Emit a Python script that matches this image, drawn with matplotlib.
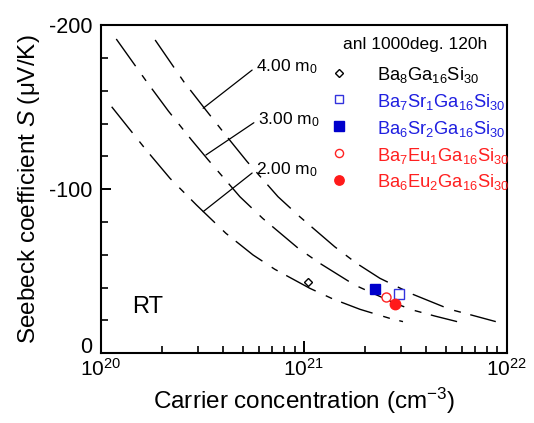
import matplotlib
matplotlib.use("Agg")
import matplotlib.pyplot as plt
from matplotlib.ticker import LogLocator, MultipleLocator, FixedLocator
from matplotlib.transforms import ScaledTranslation

plt.rcParams.update({
    "font.family": ["Liberation Sans", "DejaVu Sans"],
    "mathtext.fontset": "custom",
    "mathtext.rm": "Liberation Sans",
    "mathtext.it": "Liberation Sans:italic",
    "mathtext.bf": "Liberation Sans:bold",
    "axes.unicode_minus": False,
})

# ---- data ----
# theoretical curves
n_4m = [1.85e20, 2.56e20, 3.29e20, 4.24e20, 5.26e20, 7.46e20, 9.55e20,
        1.42e21, 1.82e21, 2.37e21, 3.45e21, 5.24e21, 6.70e21, 8.83e21]
S_4m = [-190.9, -165.5, -148.2, -131.0, -116.7, -95.4, -83.2,
        -64.9, -54.8, -45.7, -35.9, -26.8, -23.3, -19.3]
n_3m = [1.19e20, 1.68e20, 2.15e20, 2.80e20, 3.38e20, 4.84e20, 6.27e20,
        9.38e20, 1.20e21, 1.78e21, 2.81e21, 3.43e21, 4.42e21, 5.69e21]
S_3m = [-191.5, -165.5, -147.6, -129.9, -117.8, -95.4, -82.2,
        -64.0, -54.8, -41.6, -30.5, -26.4, -22.7, -19.3]
n_2m = [1.13e20, 1.67e20, 2.19e20, 2.96e20, 4.13e20, 5.62e20, 7.19e20,
        1.07e21, 1.39e21, 1.89e21, 2.65e21, 3.08e21]
S_2m = [-150.2, -123.9, -106.6, -90.3, -73.1, -59.9, -51.2,
        -39.6, -33.1, -26.8, -21.3, -19.3]

# measured samples
samples = ["Ba$_8$Ga$_{16}$Si$_{30}$",
           "Ba$_7$Sr$_1$Ga$_{16}$Si$_{30}$",
           "Ba$_6$Sr$_2$Ga$_{16}$Si$_{30}$",
           "Ba$_7$Eu$_1$Ga$_{16}$Si$_{30}$",
           "Ba$_6$Eu$_2$Ga$_{16}$Si$_{30}$"]
sample_n = [1.05e21, 2.94e21, 2.24e21, 2.55e21, 2.80e21]
sample_S = [-43.3, -36.3, -39.3, -34.2, -29.8]

mass_labels = ["4.00 m$_0$", "3.00 m$_0$", "2.00 m$_0$"]
label_xy = [(3.19e20, -149.3), (3.29e20, -120.8), (3.19e20, -86.3)]
label_text_xy = [(5.81e20, -174.4), (5.93e20, -142.1), (5.81e20, -111.7)]

legend_title = "anl 1000deg. 120h"

# ---- styling ----
markers = ["D", "s", "s", "o", "o"]
mfc = ["white", "white", "#0000cc", "white", "#ff1a1a"]
mec = ["black", "#3333dd", "#0000cc", "#ff2222", "#ff1a1a"]
msz = [4.2, 6.5, 7.5, 6.5, 7.5]
txt_col = ["black", "#1f1fe0", "#1f1fe0", "#ff2020", "#ff2020"]

fig = plt.figure(figsize=(5.34, 4.23), dpi=100)
ax = fig.add_axes([0.189, 0.1648, 0.760, 0.776])

dash = (0, (24, 8, 5, 7))
for n, S in [(n_4m, S_4m), (n_3m, S_3m), (n_2m, S_2m)]:
    ax.plot(n, S, color="black", lw=1.0, linestyle=dash)

for i in range(len(samples)):
    ax.plot([sample_n[i]], [sample_S[i]], linestyle="none",
            marker=markers[i], markersize=msz[i],
            markerfacecolor=mfc[i], markeredgecolor=mec[i],
            markeredgewidth=1.0, label=samples[i])

for lab, xy, xyt in zip(mass_labels, label_xy, label_text_xy):
    ax.annotate(lab, xy=xy, xytext=xyt, textcoords="data",
                ha="left", va="center", fontsize=12.5,
                arrowprops=dict(arrowstyle="-", color="black", lw=0.9,
                                relpos=(0, 0.5), shrinkA=1, shrinkB=0))

ax.text(0.116, 0.14, "RT", transform=ax.transAxes, fontsize=17,
        ha="center", va="center")

# legend (manually laid out to match the original)
leg_mx, leg_tx = 0.5866, 0.680
leg_y0, leg_dy = 0.8547, 0.0815
ax.text(0.597, 0.942, legend_title, transform=ax.transAxes, fontsize=12.5,
        ha="left", va="center")
for i in range(len(samples)):
    y = leg_y0 - i * leg_dy
    ax.plot([leg_mx], [y], transform=ax.transAxes, linestyle="none",
            marker=markers[i], markersize=msz[i] * 0.9 if i else msz[i],
            markerfacecolor=mfc[i], markeredgecolor=mec[i],
            markeredgewidth=1.0, clip_on=False)
    ax.text(leg_tx, y - 0.008, samples[i], transform=ax.transAxes,
            fontsize=13.2, color=txt_col[i], ha="left", va="center")

ax.set_xscale("log")
ax.set_xlim(1e20, 1e22)
ax.set_ylim(0, -200)
ax.yaxis.set_major_locator(FixedLocator([0, -100, -200]))
ax.yaxis.set_minor_locator(MultipleLocator(20))
ax.xaxis.set_major_locator(LogLocator(base=10, numticks=10))
ax.xaxis.set_minor_locator(LogLocator(base=10, subs=range(2, 10), numticks=20))

for s in ax.spines.values():
    s.set_linewidth(1.5)
ax.tick_params(axis="x", which="major", direction="in", length=8.5, width=1.4,
               labelsize=15, pad=3.5, top=False)
ax.tick_params(axis="x", which="minor", direction="in", length=5, width=1.2,
               top=False)
ax.tick_params(axis="y", which="major", direction="in", length=7, width=1.4,
               labelsize=15.5, pad=6, right=False)
ax.tick_params(axis="y", which="minor", direction="in", length=5, width=1.2,
               right=False)

ax.set_xlabel("Carrier concentration (cm$^{-3}$)", fontsize=17.5, labelpad=4)
ax.set_ylabel("Seebeck coefficient $S$ (\u03bcV/K)", fontsize=17.5, labelpad=5)

# lift the "0" tick label slightly, as in the original
fig.canvas.draw()
for tick in ax.yaxis.get_major_ticks():
    if abs(tick.get_loc()) < 1e-9:
        lbl = tick.label1
        lbl.set_transform(lbl.get_transform()
                          + ScaledTranslation(0, 6 / 72, fig.dpi_scale_trans))

fig.savefig("out.png", dpi=100)
